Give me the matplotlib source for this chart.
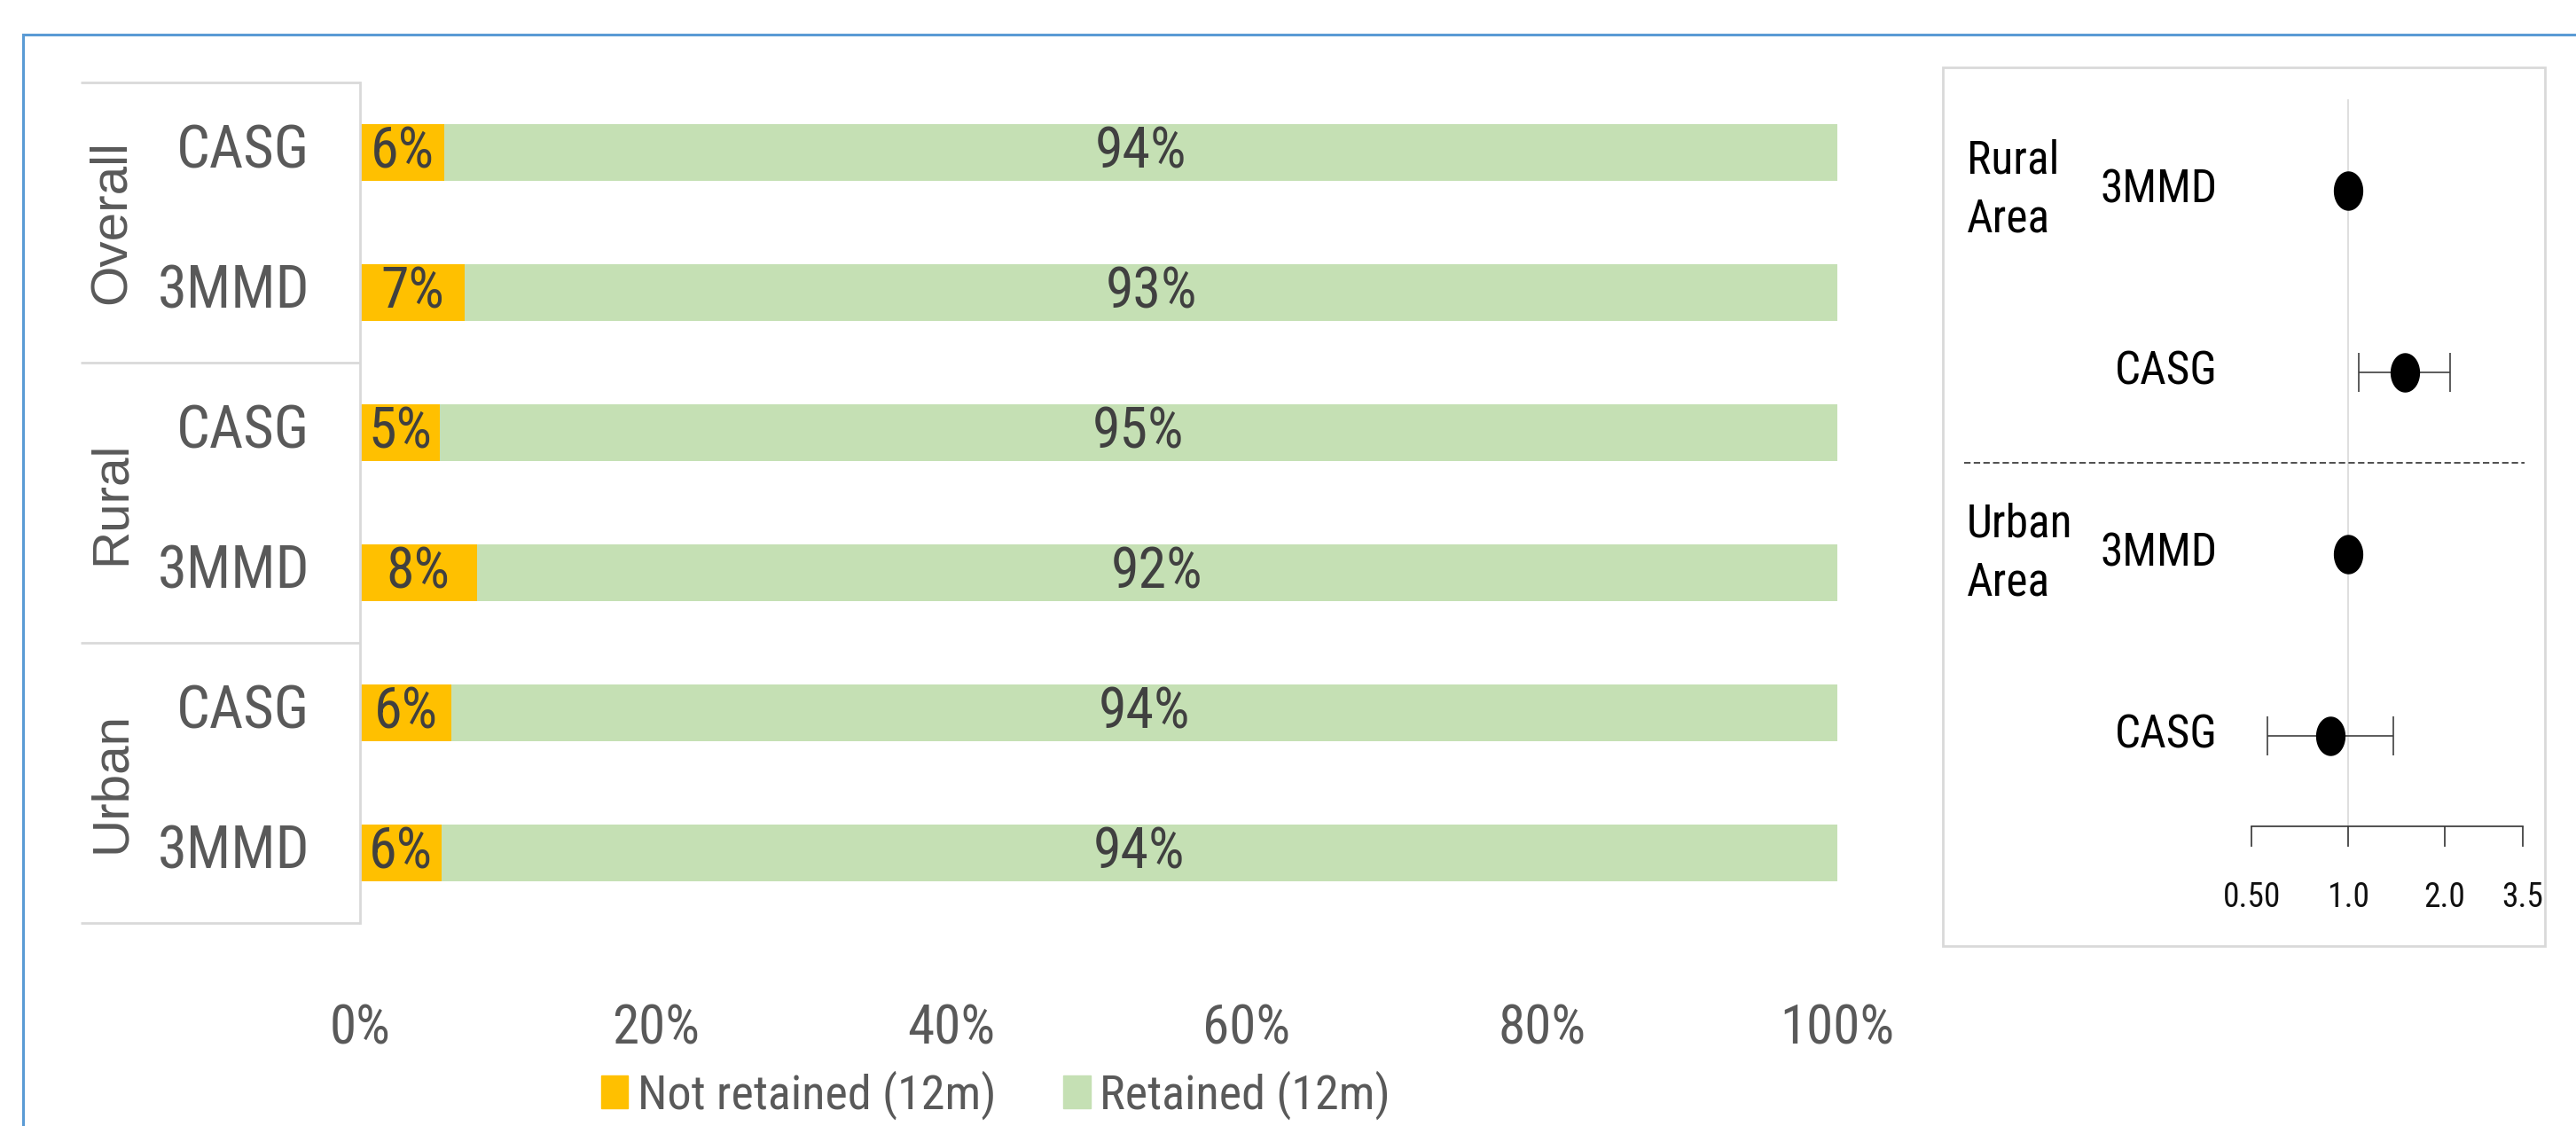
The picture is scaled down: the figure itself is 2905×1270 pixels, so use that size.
import numpy as np
import matplotlib
matplotlib.use("Agg")
import matplotlib.pyplot as plt
from matplotlib import font_manager as fm
from matplotlib.patches import Patch, Rectangle
from matplotlib.lines import Line2D
from matplotlib.path import Path

# fonts: narrow face for the Excel-like text, fall back if missing
avail = {f.name for f in fm.fontManager.ttflist}


def pick(*names):
    for n in names:
        if n in avail:
            return n
    return "DejaVu Sans"


NARROW = pick("Liberation Sans Narrow", "Arial Narrow", "Roboto Condensed", "Liberation Sans")
REGULAR = pick("Liberation Sans", "Arial", "DejaVu Sans")

# ---- bar chart data (top to bottom) ----
groups = ["Overall", "Rural", "Urban"]
arms = ["CASG", "3MMD", "CASG", "3MMD", "CASG", "3MMD"]
not_retained = [5.7, 7.1, 5.4, 7.9, 6.2, 5.5]
not_labels = ["6%", "7%", "5%", "8%", "6%", "6%"]
ret_labels = ["94%", "93%", "95%", "92%", "94%", "94%"]
xtick_vals = [0, 20, 40, 60, 80, 100]
xtick_labels = ["0%", "20%", "40%", "60%", "80%", "100%"]
legend_labels = ["Not retained (12m)", "Retained (12m)"]

# ---- forest plot data (top to bottom) ----
forest_groups = ["Rural\nArea", "Urban\nArea"]
forest_arms = ["3MMD", "CASG", "3MMD", "CASG"]
odds = [1.0, 1.50, 1.0, 0.88]
ci_low = [np.nan, 1.08, np.nan, 0.56]
ci_high = [np.nan, 2.07, np.nan, 1.38]
or_ticks = [0.5, 1.0, 2.0, 3.5]
or_tick_labels = ["0.50", "1.0", "2.0", "3.5"]

YELLOW = "#FFC000"
GREEN = "#C5E0B4"
GREY_TXT = "#595959"
DARK_TXT = "#404040"
LINE_GREY = "#D9D9D9"

W, H = 2905, 1270
fig = plt.figure(figsize=(W / 100, H / 100), dpi=100)
fig.patch.set_facecolor("white")


def fx(px):
    return px / W


def fy(py):
    return 1 - py / H


# outer blue frame (only top and left edges visible)
fig.add_artist(Line2D([fx(26), 1.0], [fy(39), fy(39)], color="#5A9BD5", lw=2.2))
fig.add_artist(Line2D([fx(26), fx(26)], [fy(39), 0.0], color="#5A9BD5", lw=2.2))

# ================= left: stacked bars =================
ax = fig.add_axes([fx(406), fy(1041), fx(2072) - fx(406), fy(93) - fy(1041)])
y = np.arange(len(arms))
nr = np.array(not_retained)
ret = 100 - nr
ax.barh(y, nr, height=0.4, color=YELLOW)
ax.barh(y, ret, left=nr, height=0.4, color=GREEN)
ax.set_xlim(0, 100)
ax.set_ylim(5.5, -0.5)
for s in ax.spines.values():
    s.set_visible(False)
ax.set_yticks([])
ax.set_xticks(xtick_vals)
ax.set_xticklabels(xtick_labels, fontsize=44, color=GREY_TXT, family=NARROW)
ax.tick_params(axis="x", length=0, pad=65)

for i in range(len(arms)):
    ax.text(nr[i] / 2, y[i], not_labels[i], ha="center", va="center",
            fontsize=46, color=DARK_TXT, family=NARROW)
    ax.text(nr[i] + ret[i] / 2, y[i], ret_labels[i], ha="center", va="center",
            fontsize=46, color=DARK_TXT, family=NARROW)
    ax.text(-3.4, y[i], arms[i], ha="right", va="center",
            fontsize=48, color=GREY_TXT, family=NARROW, clip_on=False)

# category box
box_left = -18.9
for b in [-0.5, 1.5, 3.5, 5.5]:
    ax.plot([box_left, 0], [b, b], color=LINE_GREY, lw=2, clip_on=False,
            solid_capstyle="butt")
ax.plot([0, 0], [-0.5, 5.5], color=LINE_GREY, lw=2, clip_on=False)
for g, name in enumerate(groups):
    ax.text(-16.8, 2 * g + 0.5, name, rotation=90, ha="center", va="center",
            fontsize=42, color=GREY_TXT, family=REGULAR, clip_on=False)

fig.legend(handles=[Patch(color=YELLOW), Patch(color=GREEN)], labels=legend_labels,
           loc="center", bbox_to_anchor=(fx(1123), fy(1235)), ncol=2, frameon=False,
           prop={"family": NARROW, "size": 39}, labelcolor=GREY_TXT,
           handlelength=0.56, handleheight=0.68, handletextpad=0.2,
           columnspacing=1.4, borderpad=0, borderaxespad=0)

# ================= right: forest plot =================
fig.add_artist(Rectangle((fx(2191), fy(1067)), fx(2870) - fx(2191), fy(76) - fy(1067),
                         transform=fig.transFigure, fill=False,
                         edgecolor=LINE_GREY, lw=2))

fa = fig.add_axes([fx(2191), fy(932), fx(2870) - fx(2191), fy(112) - fy(932)])
fa.patch.set_alpha(0)
fa.set_xscale("log", base=2)
fa.set_xlim(0.0546, 4.10)
fa.set_ylim(3.5, -0.5)
for k in ["left", "right", "top"]:
    fa.spines[k].set_visible(False)
fa.spines["bottom"].set_bounds(or_ticks[0], or_ticks[-1])
fa.spines["bottom"].set_color("#333333")
fa.spines["bottom"].set_linewidth(1.2)
fa.set_yticks([])
fa.set_xticks(or_ticks)
fa.set_xticklabels(or_tick_labels, fontsize=27, family=NARROW, color="#111111")
fa.xaxis.set_minor_locator(matplotlib.ticker.NullLocator())
fa.tick_params(axis="x", direction="out", length=16.5, width=1.2, color="#333333", pad=28)

fa.axvline(1.0, color=LINE_GREY, lw=1.2, zorder=0)
fa.axhline(1.5, xmin=0.035, xmax=0.966, color=DARK_TXT, lw=1.3, dashes=(4, 2))

fy_pos = np.arange(len(forest_arms))
odds_a = np.array(odds)
lo = np.array(ci_low)
hi = np.array(ci_high)
has_ci = ~np.isnan(lo)
fa.errorbar(odds_a[has_ci], fy_pos[has_ci],
            xerr=[odds_a[has_ci] - lo[has_ci], hi[has_ci] - odds_a[has_ci]],
            fmt="none", ecolor=DARK_TXT, elinewidth=1.2, capsize=15.5, capthick=1.2)

t = np.linspace(0, 2 * np.pi, 60)
ellipse = Path(np.column_stack([0.74 * np.cos(t), np.sin(t)]), closed=True)
fa.plot(odds_a, fy_pos, ls="none", marker=ellipse, ms=31, color="black", zorder=3)

for i, arm in enumerate(forest_arms):
    fa.text(0.4566, fy_pos[i], arm, transform=fa.get_yaxis_transform(),
            ha="right", va="center", fontsize=37, family=NARROW, color="black")
for g, name in enumerate(forest_groups):
    fa.text(0.04, 2 * g, name, transform=fa.get_yaxis_transform(),
            ha="left", va="center", fontsize=37, family=NARROW, color="black",
            linespacing=1.4)

fig.savefig("out.png", dpi=100, facecolor="white")
